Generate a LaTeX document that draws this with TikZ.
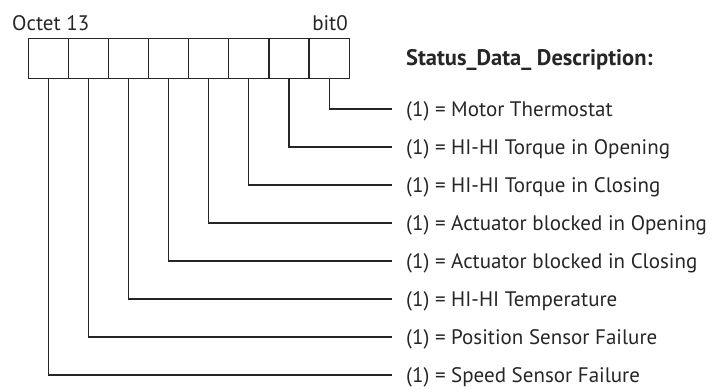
\documentclass[tikz,border=0pt]{standalone}
\usepackage{fontspec}
\setmainfont{PT Sans}
\begin{document}
\begin{tikzpicture}[x=1pt,y=-1pt,
  ink/.style={draw=black!85, line width=1.2pt},
  bitbox/.style={ink, minimum width=40.1pt, minimum height=40pt, inner sep=0pt, outer sep=0pt},
  desc/.style={anchor=west, font=\fontsize{21}{25}\selectfont, text=black!85, inner xsep=14pt, inner ysep=0pt, text height=14.5pt, text depth=0pt},
  hdr/.style={font=\fontsize{21}{25}\selectfont, text=black!85, inner sep=0pt}
]
\useasboundingbox (0,0) rectangle (713,390);
\foreach \k in {0,...,7} {
  \node[bitbox] (b\k) at ({329.1-40.1*\k},58.3) {};
}
\node[hdr, anchor=west] (oct) at (12,23) {Octet 13};
\node[hdr, anchor=east] (bit) at (348,23) {bit0};
\node[hdr, anchor=west, font=\fontsize{22.5}{26}\selectfont\bfseries] (title) at (406,60) {Status\_Data\_ Description:};
\node[desc] (l0) at (392,109) {(1) = Motor Thermostat};
\node[desc] (l1) at (392,147) {(1) = HI-HI Torque in Opening};
\node[desc] (l2) at (392,185) {(1) = HI-HI Torque in Closing};
\node[desc] (l3) at (392,223) {(1) = Actuator blocked in Opening};
\node[desc] (l4) at (392,261) {(1) = Actuator blocked in Closing};
\node[desc] (l5) at (392,299) {(1) = HI-HI Temperature};
\node[desc] (l6) at (392,337) {(1) = Position Sensor Failure};
\node[desc] (l7) at (392,375) {(1) = Speed Sensor Failure};
\foreach \k in {0,...,7} {
  \draw[ink, line width=1.1pt] (b\k.south) |- (l\k.west);
}
\end{tikzpicture}
\end{document}
